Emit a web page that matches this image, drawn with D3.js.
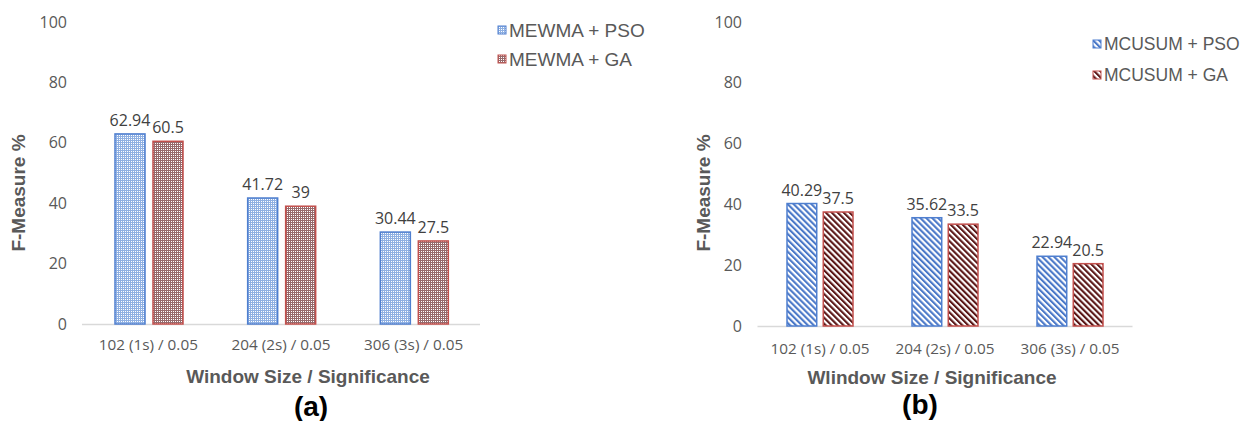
<!DOCTYPE html>
<html><head><meta charset="utf-8">
<script src="https://cdn.jsdelivr.net/npm/d3@7"></script>
<style>body{margin:0;background:#fff} svg{display:block}</style>
</head><body><svg id="c" width="1255" height="421"></svg>
<script>
const categories = ["102 (1s) / 0.05", "204 (2s) / 0.05", "306 (3s) / 0.05"];
const mewmaPSO = [62.94, 41.72, 30.44];
const mewmaGA = [60.5, 39, 27.5];
const mcusumPSO = [40.29, 35.62, 22.94];
const mcusumGA = [37.5, 33.5, 20.5];
const yTicks = [0, 20, 40, 60, 80, 100];
const seriesA = ["MEWMA + PSO", "MEWMA + GA"];
const seriesB = ["MCUSUM + PSO", "MCUSUM + GA"];

const svg = d3.select("#c");
const defs = svg.append("defs");
const grey = "#595959";

function dotPattern(id, color) {
  const p = defs.append("pattern").attr("id", id).attr("patternUnits", "userSpaceOnUse")
    .attr("width", 2).attr("height", 2);
  p.append("rect").attr("width", 2).attr("height", 2).attr("fill", color);
  p.append("rect").attr("x", 1).attr("y", 1).attr("width", 1).attr("height", 1).attr("fill", "#fff");
}
function stripePattern(id, color) {
  const p = defs.append("pattern").attr("id", id).attr("patternUnits", "userSpaceOnUse")
    .attr("width", 4.2).attr("height", 4.2).attr("patternTransform", "rotate(-45)");
  p.append("rect").attr("width", 4.2).attr("height", 4.2).attr("fill", "#fff");
  p.append("rect").attr("width", 2.1).attr("height", 4.2).attr("fill", color);
}
dotPattern("dotBlue", "#8fb0e2");
dotPattern("dotRed", "#976a6c");
stripePattern("strBlue", "#4a78c8");
stripePattern("strRed", "#5a1616");

function panel(cfg) {
  const g = svg.append("g");
  const x0 = d3.scaleBand().domain(categories).range(cfg.xr).padding(0);
  const x1 = d3.scaleBand().domain([0, 1]).range(cfg.inner).paddingInner(cfg.gap).paddingOuter(0);
  const y = d3.scaleLinear().domain([0, 100]).range(cfg.yr);

  // y tick labels
  const ya = d3.axisLeft(y).tickValues(yTicks).tickSize(0).tickPadding(0);
  const yg = g.append("g").attr("transform", `translate(${cfg.yLabelX},0)`).call(ya);
  yg.select(".domain").remove();
  yg.attr("font-size", null).attr("font-family", null);
  yg.selectAll("text").attr("fill", grey).style("font-family", "'Open Sans'").style("font-size", "16px");

  // baseline
  g.append("line").attr("x1", cfg.xr[0]).attr("x2", cfg.xr[1])
    .attr("y1", y(0) + 0.5).attr("y2", y(0) + 0.5).attr("stroke", "#d9d9d9").attr("stroke-width", 1.3);

  // category labels
  const xa = d3.axisBottom(x0).tickSize(0).tickPadding(0);
  const xg = g.append("g").attr("transform", `translate(0,${cfg.catY})`).call(xa);
  xg.select(".domain").remove();
  xg.attr("font-size", null).attr("font-family", null);
  xg.selectAll("text").attr("fill", grey).attr("dy", "0.32em").style("font-family", "'Open Sans'").style("font-size", "15.3px");

  const sets = [cfg.pso, cfg.ga];
  const fills = cfg.fills, strokes = ["#4f7fcf", "#c3504d"];
  sets.forEach((vals, si) => {
    g.selectAll(null).data(vals).enter().append("rect")
      .attr("x", (d, i) => x0(categories[i]) + x1(si))
      .attr("y", d => y(d))
      .attr("width", x1.bandwidth())
      .attr("height", d => y(0) - y(d))
      .attr("fill", `url(#${fills[si]})`)
      .attr("stroke", strokes[si]).attr("stroke-width", 1.5);
    g.selectAll(null).data(vals).enter().append("text")
      .attr("x", (d, i) => x0(categories[i]) + x1(si) + x1.bandwidth() / 2)
      .attr("y", d => y(d) - 8)
      .attr("text-anchor", "middle").attr("fill", "#404040")
      .style("font-family", "'Open Sans'").style("font-size", "16px")
      .text(d => d);
  });

  // axis titles
  g.append("text").attr("x", cfg.xTitle[0]).attr("y", cfg.xTitle[1]).attr("text-anchor", "middle")
    .attr("dominant-baseline", "central").attr("fill", grey)
    .style("font-family", "'Liberation Sans', Arial").style("font-weight", "bold").style("font-size", "19px")
    .text(cfg.xTitleText);
  g.append("text").attr("transform", `translate(${cfg.yTitle[0]},${cfg.yTitle[1]}) rotate(-90)`)
    .attr("text-anchor", "middle").attr("dominant-baseline", "central").attr("fill", grey)
    .style("font-family", "'Liberation Sans', Arial").style("font-weight", "bold").style("font-size", "19px")
    .text("F-Measure %");

  // legend
  cfg.series.forEach((s, i) => {
    const ly = cfg.legend[1] + i * cfg.legendStep;
    g.append("rect").attr("x", cfg.legend[0]).attr("y", ly - 4).attr("width", 8).attr("height", 8)
      .attr("fill", `url(#${fills[i]})`).attr("stroke", strokes[i]).attr("stroke-width", 1);
    g.append("text").attr("x", cfg.legend[0] + 11).attr("y", ly).attr("dominant-baseline", "central")
      .attr("fill", grey).style("font-family", "'Liberation Sans', Arial").style("font-size", cfg.legendSize)
      .text(s);
  });

  // panel label
  g.append("text").attr("x", cfg.label[0]).attr("y", cfg.label[1]).attr("text-anchor", "middle")
    .attr("fill", "#000").style("font-family", "'Liberation Sans', Arial").style("font-weight", "bold")
    .style("font-size", "28px").text(cfg.labelText);
}

panel({
  xr: [82, 480], inner: [33, 101], gap: 0.21, yr: [324, 22], yLabelX: 67, catY: 345,
  pso: mewmaPSO, ga: mewmaGA, fills: ["dotBlue", "dotRed"],
  xTitle: [308, 376], xTitleText: "Window Size / Significance", yTitle: [18, 193],
  series: seriesA, legend: [498, 30], legendStep: 29, legendSize: "19px",
  label: [311, 416], labelText: "(a)"
});
panel({
  xr: [757.5, 1132.5], inner: [29.5, 95.5], gap: 0.18, yr: [326, 22], yLabelX: 742, catY: 349,
  pso: mcusumPSO, ga: mcusumGA, fills: ["strBlue", "strRed"],
  xTitle: [932, 377], xTitleText: "Wlindow Size / Significance", yTitle: [703, 193],
  series: seriesB, legend: [1093, 44], legendStep: 31, legendSize: "17.5px",
  label: [920, 414], labelText: "(b)"
});
</script>
</body></html>
